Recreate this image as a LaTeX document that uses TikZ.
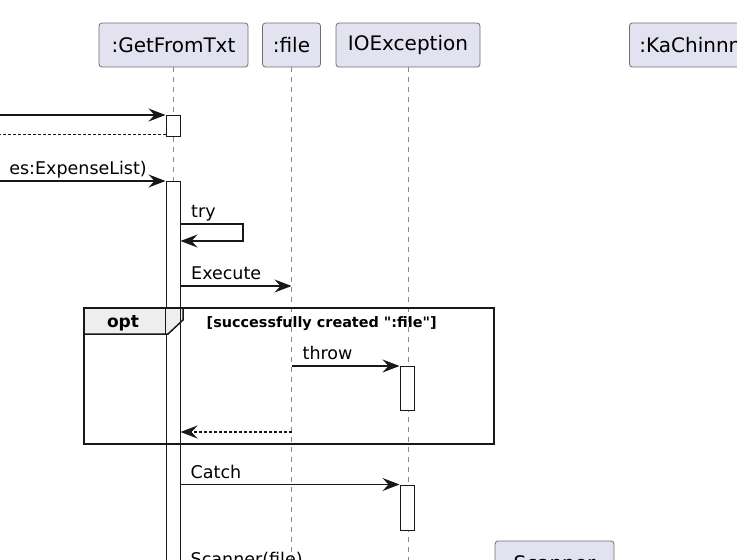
\documentclass[tikz,border=0pt]{standalone}
\usepackage{fontspec}
\setmainfont{DejaVu Sans}
\usepackage{tikz}
\usetikzlibrary{positioning}
\usetikzlibrary{arrows.meta}

\definecolor{partfill}{HTML}{E2E2F0}
\definecolor{partdraw}{HTML}{707070}
\definecolor{tabfill}{HTML}{EEEEEE}
\definecolor{lifegray}{HTML}{8A8A8A}
\definecolor{inkblack}{HTML}{181818}

\begin{document}
\begin{tikzpicture}[x=1pt, y=-1pt,
                partnode/.style={rectangle, draw=partdraw, fill=partfill, line width=0.8pt, rounded corners=3pt, minimum height=44pt, inner sep=0pt, font=\fontsize{20}{24}\selectfont},
                actbar/.style={rectangle, draw=inkblack, fill=white, line width=1pt, minimum width=14pt, inner sep=0pt, anchor=north},
                lifeline/.style={draw=lifegray, line width=1pt, dash pattern=on 5pt off 5pt},
                msg/.style={draw=inkblack, line width=1.1pt, -{Stealth[length=17pt, width=13pt, inset=6pt]}},
                retmsg/.style={msg, dash pattern=on 3pt off 2pt},
                msglabel/.style={anchor=base west, inner sep=0pt, font=\fontsize{17.5}{20}\selectfont},
                optframe/.style={rectangle, inner sep=0pt, anchor=north west},
            ]
            \useasboundingbox (0,0) rectangle (737,560);

            % Nodes
            \node[partnode, minimum width=149pt]   (getfromtxt)   at (173.5,45)   {:GetFromTxt};
            \node[partnode, minimum width=58pt]    (file)         at (291.5,45)   {:file};
            \node[partnode, minimum width=144pt]   (ioexception)  at (408,45)     {IOException};
            \node[partnode, minimum width=150pt, align=left, text width=130pt, anchor=west] (kachin) at (629,45) {:KaChinnn};
            \node[partnode, minimum width=119pt]   (scanner)      at (554.5,563)  {Scanner};

            % Lifelines
            \coordinate (getfromtxt_end)  at (173.5,580);
            \coordinate (file_end)        at (291.5,580);
            \coordinate (ioexception_end) at (408,580);
            \draw[lifeline] (getfromtxt.south) -- (getfromtxt_end);
            \draw[lifeline] (file.south) -- (file_end);
            \draw[lifeline] (ioexception.south) -- (ioexception_end);

            % Activations
            \node[actbar, minimum height=21pt]  (get_act_1) at (173,114.5) {};
            \node[actbar, minimum height=400pt] (get_act_2) at (173,181)   {};
            \node[actbar, minimum height=44pt]  (io_act_1)  at (407,366)   {};
            \node[actbar, minimum height=45pt]  (io_act_2)  at (407,484.5) {};

            % Opt frame
            \node[optframe, minimum width=410pt, minimum height=136pt] (opt_frame) at (84,308) {};
            \coordinate (tab_bottom) at (84,334);
            \filldraw[fill=tabfill, draw=inkblack, line width=1.5pt]
                (opt_frame.north west) -- ++(99,0) -- ++(0,12) -- ++(-15,14) -- (tab_bottom) -- cycle;
            \draw[inkblack, line width=1pt] (get_act_2.north west |- opt_frame.north) -- (get_act_2.north west |- tab_bottom);
            \draw[inkblack, line width=1pt] (get_act_2.north east |- opt_frame.north) -- (get_act_2.north east |- tab_bottom);
            \draw[inkblack, line width=2pt] (opt_frame.north west) rectangle (opt_frame.south east);
            \node[anchor=base, inner sep=0pt, font=\fontsize{17}{20}\bfseries] (opt_label) at (123,327) {opt};
            \node[anchor=base west, inner sep=0pt, font=\fontsize{14.4}{17}\bfseries] (opt_guard) at (206.5,327) {[successfully created \textquotedbl:file\textquotedbl]};

            %Lines
            \coordinate (caller_in_1)  at (-5,115);
            \coordinate (caller_out_1) at (-25,134.5);
            \coordinate (caller_in_2)  at (-5,181);
            \coordinate (try_top)      at (243,224);
            \coordinate (try_bot)      at (243,241);

            \draw[msg] (caller_in_1) -- (get_act_1.west |- caller_in_1);
            \draw[retmsg] (get_act_1.west |- caller_out_1) -- (caller_out_1);

            \draw[msg] (caller_in_2) -- (get_act_2.north west);
            \node[msglabel, anchor=base east] (lbl_expenses) at (147,174) {es:ExpenseList)};

            \draw[msg] (get_act_2.east |- try_top) -- (try_top) -- (try_bot) -- (get_act_2.east |- try_bot);
            \node[msglabel] (lbl_try) at (191,217) {try};

            \draw[msg] (get_act_2.east |- 0,286) -- (file.south |- 0,286);
            \node[msglabel] (lbl_execute) at (191,279) {Execute};

            \draw[msg] (file.south |- io_act_1.north) -- (io_act_1.north west);
            \node[msglabel] (lbl_throw) at (302.5,359) {throw};
            \draw[retmsg] (file.south |- 0,432) -- (get_act_2.east |- 0,432);

            \draw[msg] (get_act_2.east |- io_act_2.north) -- (io_act_2.north west);
            \node[msglabel] (lbl_catch) at (190.5,478) {Catch};

            \draw[msg] (get_act_2.east |- 0,572) -- (scanner.west |- 0,572);
            \node[msglabel] (lbl_scanner) at (190.5,565.5) {Scanner(file)};
        \end{tikzpicture}
\end{document}
